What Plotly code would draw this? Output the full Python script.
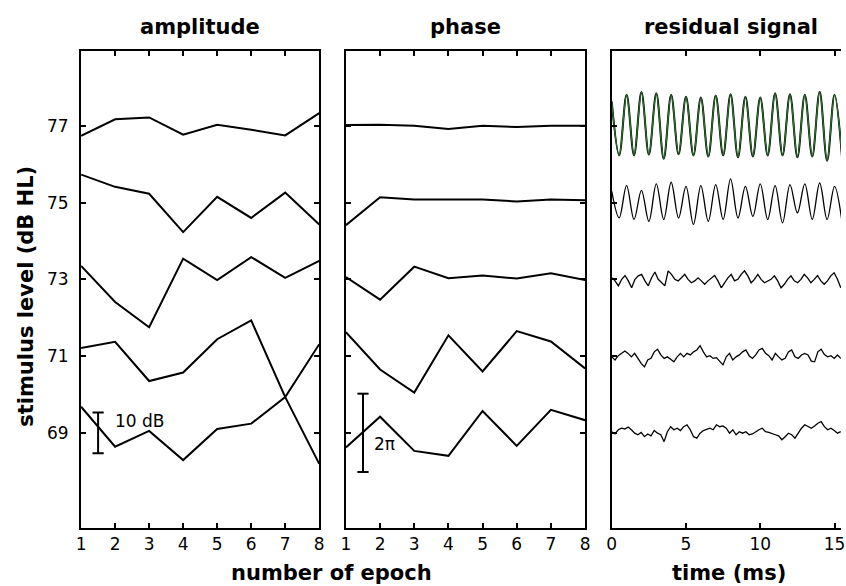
import numpy as np
import plotly.graph_objects as go

# ---------------- data ----------------
epochs = [1, 2, 3, 4, 5, 6, 7, 8]
levels = [77, 75, 73, 71, 69]  # stimulus level (dB HL)

amplitude = {
    77: [76.74, 77.17, 77.22, 76.77, 77.03, 76.90, 76.75, 77.33],
    75: [75.73, 75.41, 75.23, 74.23, 75.15, 74.60, 75.26, 74.43],
    73: [73.35, 72.41, 71.75, 73.54, 72.98, 73.58, 73.04, 73.48],
    71: [71.21, 71.37, 70.35, 70.57, 71.44, 71.93, 69.93, 68.19],
    69: [69.68, 68.64, 69.05, 68.29, 69.10, 69.24, 69.93, 71.31],
}
phase = {
    77: [77.02, 77.03, 77.00, 76.92, 77.00, 76.97, 77.00, 77.00],
    75: [74.41, 75.14, 75.08, 75.08, 75.08, 75.03, 75.08, 75.06],
    73: [73.06, 72.47, 73.33, 73.03, 73.10, 73.02, 73.16, 72.98],
    71: [71.62, 70.65, 70.05, 71.54, 70.60, 71.65, 71.38, 70.68],
    69: [68.62, 69.42, 68.53, 68.40, 69.57, 68.66, 69.60, 69.33],
}

# residual signals (deviation from level, in 1/100 axis units)
# top two: peak / trough values every half period (0.5 ms), from t = 0
res_77 = [63, -77, 81, -77, 88, -75, 85, -86, 81, -74, 76, -77, 74, -80, 79, -77,
          82, -82, 76, -80, 74, -77, 85, -77, 82, -82, 81, -80, 89, -91, 81, -80]
res_75 = [29, -40, 44, -44, 32, -49, 49, -44, 53, -40, 42, -57, 44, -49, 47, -44,
          62, -40, 42, -36, 49, -44, 44, -53, 47, -27, 49, -44, 51, -44, 42, -49]
res_73 = [4, -4, -17, 0, 10, -4, -22, 0, 9, 13, -4, -17, 4, 19, 0, -9, -17, 22, 13, 0,
          -4, 4, 13, 0, -9, -4, 4, -4, -13, -4, 4, 10, -4, -22, -9, 4, 13, -4, 0, 13,
          22, 9, -9, 0, 13, 0, -9, -4, 0, 9, -4, -22, -13, 0, 9, -4, -9, 0, 13, 4,
          -9, 0, 10, -4, -13, -4, 9, 17, 0, -22]
res_71 = [-2, -10, 1, 7, 13, 7, -2, 7, -6, -19, -28, -10, -6, 11, 18, 3, -6, -2, -8, -15,
          -2, 7, -2, 7, 3, 11, 16, 27, 11, -2, 1, -6, -4, -15, -23, -2, 7, -10, -2, 3,
          11, 16, 1, -6, 3, 16, 20, 7, 1, -10, 7, -2, -10, -6, 11, 16, -2, -6, 3, 7,
          3, -13, -15, 11, 18, 4, -2, 1, -6, 3, -6]
res_69 = [3, -3, 8, 12, 10, 15, 8, -1, -5, 1, -10, -3, -8, 6, -1, -5, -23, 3, 16, 8,
          12, 6, 16, 21, 8, -10, -14, -1, 6, 8, 12, 8, 21, 16, 18, 12, -1, 8, -5, 3,
          -1, 3, -5, -3, 3, 8, 12, 3, 1, -3, -5, -8, -18, -10, -1, -5, -14, -1, 12, 21,
          16, 12, 18, 25, 29, 16, 8, 12, 6, -1, 3]
half_period_ms = 0.5
noise_span_ms = 15.42

amp_bar = (1.5, 69.0, 0.53, "10 dB")   # x, centre, half-length, label
phase_bar = (1.5, 69.0, 1.02, "2\u03c0")

# ---------------- figure ----------------
FONT = "DejaVu Sans, Liberation Sans, Arial, sans-serif"
fig = go.Figure()

for lv in levels:
    fig.add_trace(go.Scatter(x=epochs, y=amplitude[lv], mode="lines",
                             line=dict(color="black", width=2), xaxis="x", yaxis="y"))
    fig.add_trace(go.Scatter(x=epochs, y=phase[lv], mode="lines",
                             line=dict(color="black", width=2), xaxis="x2", yaxis="y2"))

def t_half(n):
    return [i * half_period_ms for i in range(n)]

def t_span(n):
    return list(np.linspace(0, noise_span_ms, n))

# top trace: black under green fit
y77 = [77 + v / 100 for v in res_77]
fig.add_trace(go.Scatter(x=t_half(len(res_77)), y=y77, mode="lines",
                         line=dict(color="black", width=2, shape="spline", smoothing=1.0),
                         xaxis="x3", yaxis="y3"))
fig.add_trace(go.Scatter(x=t_half(len(res_77)), y=y77, mode="lines",
                         line=dict(color="#267326", width=1.3, shape="spline", smoothing=1.0),
                         xaxis="x3", yaxis="y3"))
fig.add_trace(go.Scatter(x=t_half(len(res_75)), y=[75 + v / 100 for v in res_75], mode="lines",
                         line=dict(color="black", width=1.3, shape="spline", smoothing=1.0),
                         xaxis="x3", yaxis="y3"))
for lv, res in [(73, res_73), (71, res_71), (69, res_69)]:
    fig.add_trace(go.Scatter(x=t_span(len(res)), y=[lv + v / 100 for v in res], mode="lines",
                             line=dict(color="black", width=1.3),
                             xaxis="x3", yaxis="y3"))

# scale bars
for (bx, bc, bh, lab), xa, ya, tx, ty in [(amp_bar, "x", "y", 1.93, 69.31),
                                          (phase_bar, "x2", "y2", 1.77, 68.70)]:
    fig.add_trace(go.Scatter(x=[bx, bx], y=[bc - bh, bc + bh], mode="lines+markers",
                             line=dict(color="black", width=2),
                             marker=dict(symbol="line-ew-open", size=8,
                                         line=dict(color="black", width=2)),
                             xaxis=xa, yaxis=ya))
    fig.add_annotation(x=tx, y=ty, xref=xa, yref=ya, text=lab, showarrow=False,
                       xanchor="left", yanchor="middle",
                       font=dict(family=FONT, size=17, color="black"))

W, H = 846, 586
YR = [66.52, 78.95]
ydom = [1 - 528 / H, 1 - 51 / H]
common_ax = dict(showgrid=False, zeroline=False, showline=True, linecolor="black",
                 linewidth=2, ticks="inside", ticklen=5, tickwidth=1.5, tickcolor="black",
                 tickfont=dict(family=FONT, size=17, color="black"))

fig.update_layout(
    width=W, height=H, margin=dict(l=0, r=0, t=0, b=0),
    paper_bgcolor="white", plot_bgcolor="white", showlegend=False,
    xaxis=dict(domain=[77 / W, 318 / W], range=[1, 8], tickvals=epochs, mirror="ticks",
               anchor="y", **common_ax),
    yaxis=dict(domain=ydom, range=YR, tickvals=[69, 71, 73, 75, 77], mirror="ticks",
               anchor="x", ticklabelstandoff=7, **common_ax),
    xaxis2=dict(domain=[345 / W, 587 / W], range=[1, 8], tickvals=epochs, mirror="ticks",
                anchor="y2", **common_ax),
    yaxis2=dict(domain=ydom, range=YR, tickvals=[69, 71, 73, 75, 77], mirror="ticks",
                showticklabels=False, anchor="x2", **common_ax),
    xaxis3=dict(domain=[614 / W, 1.0], range=[0, (W - 614) / 15.03], tickvals=[0, 5, 10, 15],
                mirror="ticks", anchor="y3", **common_ax),
    yaxis3=dict(domain=ydom, range=YR, tickvals=[69, 71, 73, 75, 77], mirror=False,
                showticklabels=False, anchor="x3", **common_ax),
)

titles = [("amplitude", 197.5), ("phase", 466), ("residual signal", 735)]
for txt, px in titles:
    fig.add_annotation(x=px / W, y=1 - 27 / H, xref="paper", yref="paper", text=f"<b>{txt}</b>",
                       showarrow=False, xanchor="center", yanchor="middle",
                       font=dict(family=FONT, size=21, color="black"))
fig.add_annotation(x=330 / W, y=1 - 573 / H, xref="paper", yref="paper",
                   text="<b>number of epoch</b>", showarrow=False, xanchor="center",
                   yanchor="middle", font=dict(family=FONT, size=21, color="black"))
fig.add_annotation(x=733 / W, y=1 - 573 / H, xref="paper", yref="paper",
                   text="<b>time (ms)</b>", showarrow=False, xanchor="center",
                   yanchor="middle", font=dict(family=FONT, size=21, color="black"))
fig.add_annotation(x=21 / W, y=1 - 296 / H, xref="paper", yref="paper",
                   text="<b>stimulus level (dB HL)</b>", showarrow=False, textangle=-90,
                   xanchor="center", yanchor="middle",
                   font=dict(family=FONT, size=21, color="black"))

fig.write_html("out.html")
